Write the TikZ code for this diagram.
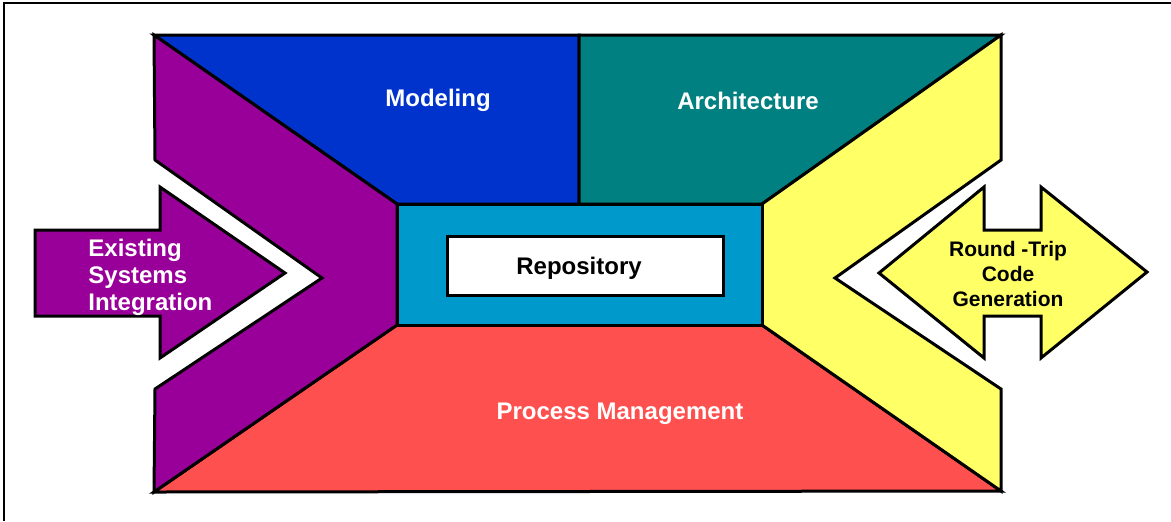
\documentclass[tikz,border=0pt]{standalone}
\usepackage{fontspec}
\setmainfont{Liberation Sans}
\definecolor{modblue}{HTML}{0033CC}
\definecolor{archteal}{HTML}{008080}
\definecolor{intpurple}{HTML}{990099}
\definecolor{codeyellow}{HTML}{FFFF66}
\definecolor{procred}{HTML}{FF5050}
\definecolor{repocyan}{HTML}{0099CC}
\begin{document}
\begin{tikzpicture}[x=0.5pt, y=-0.5pt,
		  panel/.style={draw=black, line width=1.5pt},
		  big label/.style={font=\bfseries\fontsize{12}{13.5}\selectfont, text=white, inner sep=0pt},
		  small label/.style={font=\bfseries\fontsize{10.5}{12.5}\selectfont, inner sep=0pt, align=center}]
		  \useasboundingbox (0,0) rectangle (1171,521);
		  \draw[line width=1.2pt] (4,521) -- (4,3) -- (1171,3);
		  % corners of the frame and of the repository
		  \coordinate (tl) at (154,35);
		  \coordinate (tr) at (1001,35);
		  \coordinate (bl) at (154,492);
		  \coordinate (br) at (1001,491);
		  \coordinate (itl) at (397,204);
		  \coordinate (itr) at (762,204);
		  \coordinate (ibl) at (397,325);
		  \coordinate (ibr) at (762,325);
		  % four sides around the repository
		  \draw[panel, fill=modblue] (tl) -- (579,35) -- (579,204) -- (itl) -- cycle;
		  \draw[panel, fill=archteal] (579,35) -- (tr) -- (itr) -- (579,204) -- cycle;
		  \draw[panel, fill=procred] (ibl) -- (ibr) -- (br) -- (bl) -- cycle;
		  \draw[panel, fill=intpurple] (tl) -- (itl) -- (ibl) -- (bl) -- (155,389) -- (322,278) -- (155,160) -- cycle;
		  \draw[panel, fill=codeyellow] (tr) -- (itr) -- (ibr) -- (br) -- (1001,389) -- (835,278) -- (1001,160) -- cycle;
		  \draw[panel, fill=repocyan] (itl) rectangle (ibr);
		  % incoming and round-trip arrows
		  \draw[panel, fill=intpurple] (35,230) -- (160,230) -- (160,187) -- (285,273) -- (160,358) -- (160,316) -- (35,316) -- cycle;
		  \draw[panel, fill=codeyellow] (879,273) -- (984,187) -- (984,230) -- (1041,230) -- (1041,187) -- (1147,272)
		      -- (1041,358) -- (1041,316) -- (984,316) -- (984,358) -- cycle;
		  \node[panel, fill=white, minimum width=138pt, minimum height=29.5pt, inner sep=0pt] (repo) at (585,265.5) {};
		  \node[big label, text=black] (repotext) at (579,268) {Repository};
		  \node[big label] (modeling) at (438,100) {Modeling};
		  \node[big label] (architecture) at (748,101) {Architecture};
		  \node[big label] (process) at (620,414) {Process Management};
		  \node[big label, anchor=west, align=left] (existing) at (88,277) {Existing\\Systems\\Integration};
		  \node[small label] (roundtrip) at (1008,274) {Round -Trip\\Code\\Generation};
	\end{tikzpicture}
\end{document}
